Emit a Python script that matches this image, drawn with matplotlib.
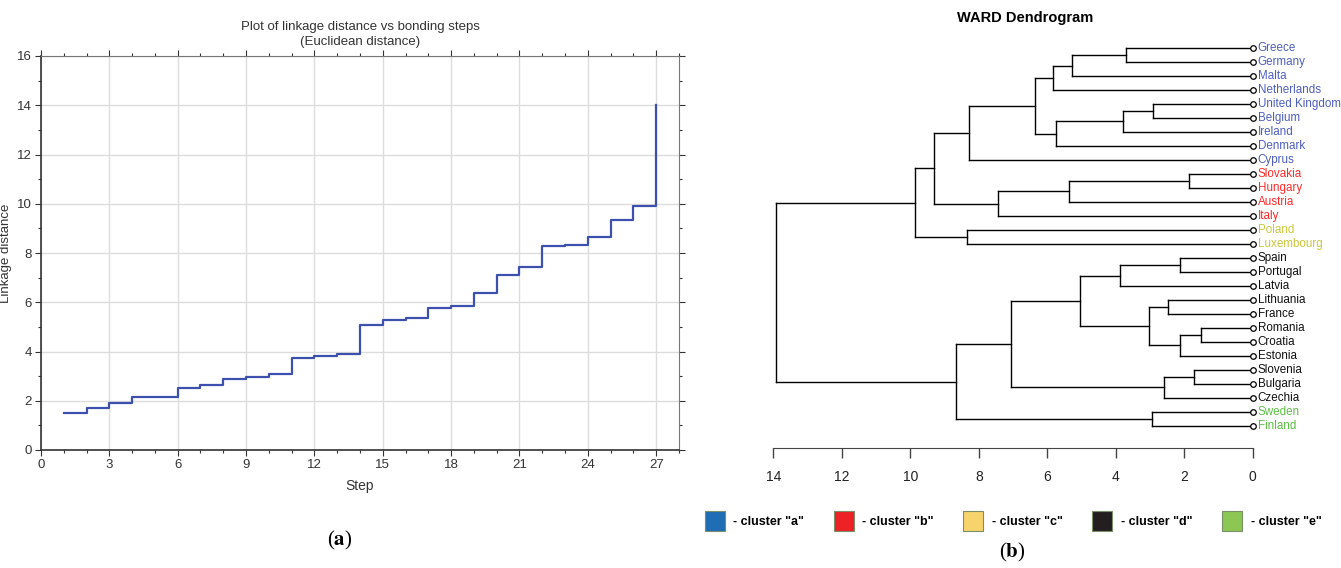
import numpy as np
import matplotlib
matplotlib.use('Agg')
import matplotlib.pyplot as plt
from matplotlib.patches import Patch
from matplotlib.ticker import MultipleLocator

plt.rcParams['font.family'] = ['Liberation Sans', 'DejaVu Sans']
plt.rcParams['mathtext.fontset'] = 'stix'

# (a) linkage distance vs bonding steps
kroki = list(range(1, 28))
atstumai = [1.50, 1.70, 1.90, 2.15, 2.15, 2.50, 2.62, 2.90, 2.97, 3.07,
            3.72, 3.80, 3.90, 5.07, 5.28, 5.37, 5.77, 5.85, 6.38, 7.10,
            7.43, 8.28, 8.33, 8.65, 9.33, 9.90, 14.0]

# (b) dendrogram
salys = ['Greece', 'Germany', 'Malta', 'Netherlands', 'United Kingdom', 'Belgium',
         'Ireland', 'Denmark', 'Cyprus', 'Slovakia', 'Hungary', 'Austria', 'Italy',
         'Poland', 'Luxembourg', 'Spain', 'Portugal', 'Latvia', 'Lithuania', 'France',
         'Romania', 'Croatia', 'Estonia', 'Slovenia', 'Bulgaria', 'Czechia',
         'Sweden', 'Finland']
klasteriai = ['a'] * 9 + ['b'] * 4 + ['c'] * 2 + ['d'] * 11 + ['e'] * 2
# merges: (child, child, height); new node ids start at len(salys)
sujungimai = [
    (0, 1, 3.71), (28, 2, 5.28), (29, 3, 5.83),
    (4, 5, 2.90), (31, 6, 3.79), (32, 7, 5.75),
    (30, 33, 6.37), (34, 8, 8.28),
    (9, 10, 1.87), (36, 11, 5.37), (37, 12, 7.43),
    (35, 38, 9.32),
    (13, 14, 8.33), (39, 40, 9.86),
    (15, 16, 2.12), (42, 17, 3.88),
    (18, 19, 2.47), (20, 21, 1.50), (45, 22, 2.12), (44, 46, 3.03),
    (43, 47, 5.03),
    (23, 24, 1.70), (49, 25, 2.60), (48, 50, 7.05),
    (26, 27, 2.94), (51, 52, 8.65),
    (41, 53, 13.92),
]
tekstu_spalvos = {'a': '#4f5fbf', 'b': '#ff2a2a', 'c': '#c9c83e', 'd': '#111111', 'e': '#5cbf45'}
legendos_spalvos = {'a': '#1f6db5', 'b': '#ec2227', 'c': '#f6d36b', 'd': '#231f20', 'e': '#8cc653'}

fig = plt.figure(figsize=(13.41, 5.68), dpi=100)

# ---- left chart
ax1 = fig.add_axes([41 / 1341, 1 - 450 / 568, 638 / 1341, 394 / 568])
ax1.plot(kroki, atstumai, drawstyle='steps-post', color='#3d50ad', lw=1.6)
ax1.set_xlim(0, 28)
ax1.set_ylim(0, 16)
ax1.set_xticks(range(0, 28, 3))
ax1.set_yticks(range(0, 17, 2))
ax1.xaxis.set_minor_locator(MultipleLocator(1))
ax1.yaxis.set_minor_locator(MultipleLocator(1))
ax1.grid(True, which='major', color='#dcdcdc', lw=1)
ax1.tick_params(which='both', direction='out', colors='#333333', labelsize=9.5, length=4, width=0.8,
                pad=2.5)
ax1.tick_params(which='minor', length=2)
ax1.tick_params(which='both', top=True, right=True)
for s in ['top', 'right']:
    ax1.spines[s].set_color('#777777')
    ax1.spines[s].set_linewidth(0.8)
for s in ['left', 'bottom']:
    ax1.spines[s].set_color('#333333')
    ax1.spines[s].set_linewidth(1.2)
ax1.set_xlabel('Step', fontsize=10, color='#333333', labelpad=6)
ax1.set_ylabel('Linkage distance', fontsize=9.5, color='#333333')
ax1.yaxis.set_label_coords(-29 / 638, 0.5)
ax1.set_title('Plot of linkage distance vs bonding steps\n(Euclidean distance)',
              fontsize=9.5, color='#333333', pad=8, linespacing=1.3)

fig.text(340 / 1341, 1 - 540 / 568, r'($\mathbf{a}$)', fontsize=15, ha='center', va='center',
         family='Liberation Serif')

# ---- right chart
ax2 = fig.add_axes([773.3 / 1341, 1 - 448 / 568, 479.4 / 1341, 408 / 568])
n = len(salys)
poz = {i: float(i) for i in range(n)}
aukst = {i: 0.0 for i in range(n)}
for k, (a, b, h) in enumerate(sujungimai):
    ax2.plot([aukst[a], h], [poz[a], poz[a]], color='black', lw=1)
    ax2.plot([aukst[b], h], [poz[b], poz[b]], color='black', lw=1)
    ax2.plot([h, h], [poz[a], poz[b]], color='black', lw=1)
    poz[n + k] = (poz[a] + poz[b]) / 2
    aukst[n + k] = h

ax2.plot(np.zeros(n), np.arange(n), 'o', ms=4, mfc='white', mec='black', mew=0.9, clip_on=False)
for i, (salis, kl) in enumerate(zip(salys, klasteriai)):
    ax2.text(-0.15, i, salis, color=tekstu_spalvos[kl], fontsize=8.4, va='center', ha='left',
             clip_on=False)

ax2.set_xlim(14, 0)
ax2.set_ylim((448 - 48) / 14, (40 - 48) / 14)
for s in ['top', 'right', 'left']:
    ax2.spines[s].set_visible(False)
ax2.spines['bottom'].set_bounds(0, 14)
ax2.spines['bottom'].set_color('#444444')
ax2.set_yticks([])
ax2.set_xticks(range(14, -1, -2))
ax2.tick_params(axis='x', direction='out', length=7, width=1, colors='#444444', labelsize=10,
                labelcolor='#222222', pad=9)
ax2.patch.set_visible(False)

fig.text(1025 / 1341, 1 - 18 / 568, 'WARD Dendrogram', fontsize=10.5, fontweight='bold',
         ha='center', va='center')

rankenos = [Patch(facecolor=legendos_spalvos[k], edgecolor='#7a8f6a', lw=0.8) for k in 'abcde']
etiketes = ['- cluster "%s"' % k for k in 'abcde']
fig.legend(rankenos, etiketes, ncol=5, loc='center', bbox_to_anchor=(1013 / 1341, 1 - 521 / 568),
           frameon=False, prop={'size': 9, 'weight': 'bold'}, handlelength=1.6, handleheight=2.2,
           handletextpad=0.7, columnspacing=2.35)

fig.text(1012 / 1341, 1 - 552 / 568, r'($\mathbf{b}$)', fontsize=15, ha='center', va='center',
         family='Liberation Serif')

plt.savefig('out.png', dpi=100)
